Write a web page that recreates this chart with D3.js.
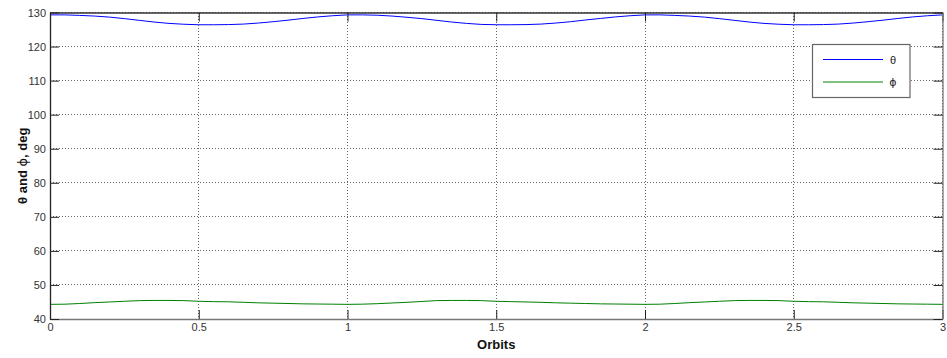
<!DOCTYPE html>
<html>
<head>
<meta charset="utf-8">
<script src="https://cdn.jsdelivr.net/npm/d3@7"></script>
<style>
  html, body { margin: 0; padding: 0; background: #fff; }
  svg { display: block; font-family: "Liberation Sans", Arial, sans-serif; }
</style>
</head>
<body>
<svg id="chart" width="947" height="358"></svg>
<script>
// Orbit positions (0.05 orbit spacing)
const orbits = d3.range(0, 61).map(i => +(i * 0.05).toFixed(2));

// Pointing angle theta, deg
const theta = [
  129.3, 129.3, 129.15, 128.95, 128.65, 128.2, 127.7, 127.2, 126.8, 126.55,
  126.4, 126.4, 126.45, 126.6, 126.9, 127.3, 127.75, 128.25, 128.7, 129.05,
  129.3, 129.3, 129.2, 128.95, 128.6, 128.2, 127.7, 127.2, 126.8, 126.5,
  126.4, 126.4, 126.45, 126.6, 126.9, 127.3, 127.8, 128.25, 128.7, 129.05,
  129.3, 129.3, 129.15, 128.95, 128.65, 128.2, 127.7, 127.2, 126.8, 126.55,
  126.4, 126.4, 126.45, 126.6, 126.9, 127.3, 127.75, 128.25, 128.7, 129.05,
  129.3
];

// Pointing angle phi, deg
const phi = [
  44.3, 44.35, 44.55, 44.8, 45.0, 45.2, 45.4, 45.45, 45.45, 45.4,
  45.2, 45.1, 45.05, 44.9, 44.75, 44.65, 44.55, 44.45, 44.4, 44.35,
  44.3, 44.35, 44.5, 44.7, 44.9, 45.15, 45.4, 45.45, 45.45, 45.4,
  45.2, 45.1, 45.0, 44.9, 44.75, 44.65, 44.55, 44.45, 44.4, 44.35,
  44.3, 44.35, 44.55, 44.8, 45.0, 45.2, 45.4, 45.45, 45.45, 45.4,
  45.2, 45.1, 45.05, 44.9, 44.75, 44.65, 44.55, 44.45, 44.4, 44.35,
  44.3
];

const xTicks = [0, 0.5, 1, 1.5, 2, 2.5, 3];
const yTicks = [40, 50, 60, 70, 80, 90, 100, 110, 120, 130];

const seriesNames = ["θ", "ϕ"];
const seriesColors = ["#0000ff", "#008000"];

const svg = d3.select("#chart");
const plotL = 50, plotR = 942.5, plotT = 12.5, plotB = 319;
const baseFont = "'Liberation Sans', Arial, sans-serif";
const greekFont = "'DejaVu Sans', sans-serif";

const x = d3.scaleLinear().domain([0, 3]).range([plotL, plotR]);
const y = d3.scaleLinear().domain([40, 130]).range([plotB, plotT]);

// Dotted grid
const grid = svg.append("g");
grid.selectAll("line.gx").data(xTicks).join("line")
  .attr("x1", d => x(d)).attr("x2", d => x(d))
  .attr("y1", plotT).attr("y2", plotB)
  .attr("stroke", "#666").attr("stroke-width", 1)
  .attr("stroke-dasharray", "1,2")
  .attr("shape-rendering", "crispEdges");
grid.selectAll("line.gy").data(yTicks).join("line")
  .attr("x1", plotL).attr("x2", plotR)
  .attr("y1", d => y(d)).attr("y2", d => y(d))
  .attr("stroke", "#666").attr("stroke-width", 1)
  .attr("stroke-dasharray", "1,2")
  .attr("shape-rendering", "crispEdges");

// Data lines
const line = d3.line().x((d, i) => x(orbits[i])).y(d => y(d));
[theta, phi].forEach((s, k) => {
  svg.append("path").datum(s)
    .attr("d", line)
    .attr("fill", "none")
    .attr("stroke", seriesColors[k])
    .attr("stroke-width", 1);
});

// Axes with inward ticks on all four sides
const tickLen = 9;
const axBottom = d3.axisBottom(x).tickValues(xTicks).tickSizeInner(-tickLen).tickSizeOuter(0)
  .tickPadding(4).tickFormat(d3.format("~g"));
const axTop = d3.axisTop(x).tickValues(xTicks).tickSizeInner(-tickLen).tickSizeOuter(0).tickFormat("");
const axLeft = d3.axisLeft(y).tickValues(yTicks).tickSizeInner(-tickLen).tickSizeOuter(0)
  .tickPadding(4);
const axRight = d3.axisRight(y).tickValues(yTicks).tickSizeInner(-tickLen).tickSizeOuter(0).tickFormat("");

function styleAxis(g, color) {
  g.select(".domain").attr("stroke", color).attr("stroke-width", 1.3);
  g.selectAll(".tick line").attr("stroke", "#222").attr("stroke-width", 1);
  g.selectAll(".tick text").attr("fill", "#333").attr("font-size", "11px")
    .attr("font-family", baseFont);
}

svg.append("g").attr("transform", `translate(0,${plotB})`).call(axBottom).call(g => styleAxis(g, "#777"));
svg.append("g").attr("transform", `translate(0,${plotT})`).call(axTop).call(g => styleAxis(g, "#333"));
svg.append("g").attr("transform", `translate(${plotL},0)`).call(axLeft).call(g => styleAxis(g, "#222"));
svg.append("g").attr("transform", `translate(${plotR},0)`).call(axRight).call(g => styleAxis(g, "#777"));

// Axis titles
svg.append("text")
  .attr("x", (plotL + plotR) / 2).attr("y", 349)
  .attr("text-anchor", "middle")
  .attr("font-family", baseFont)
  .attr("font-size", "13px").attr("font-weight", "bold").attr("fill", "#111")
  .text("Orbits");
const yTitle = svg.append("text")
  .attr("transform", `translate(27,${(plotT + plotB) / 2}) rotate(-90)`)
  .attr("text-anchor", "middle")
  .attr("font-family", baseFont)
  .attr("font-size", "13px").attr("font-weight", "bold").attr("fill", "#111");
yTitle.append("tspan").text("θ and ");
yTitle.append("tspan").attr("font-family", greekFont).attr("font-weight", "normal").text("ϕ");
yTitle.append("tspan").text(", deg");

// Legend
const lg = svg.append("g");
lg.append("rect")
  .attr("x", 812.5).attr("y", 44.5).attr("width", 97.5).attr("height", 53)
  .attr("fill", "#fff").attr("stroke", "#666").attr("stroke-width", 1.2);
seriesNames.forEach((name, k) => {
  const ly = 59.5 + k * 22.5;
  lg.append("line")
    .attr("x1", 823).attr("x2", 883).attr("y1", ly).attr("y2", ly)
    .attr("stroke", seriesColors[k]).attr("stroke-width", 1);
  lg.append("text")
    .attr("x", 893).attr("y", ly + 4)
    .attr("text-anchor", "middle")
    .attr("font-family", k === 1 ? greekFont : baseFont)
    .attr("font-size", "11px").attr("fill", "#222")
    .text(name);
});
</script>
</body>
</html>
